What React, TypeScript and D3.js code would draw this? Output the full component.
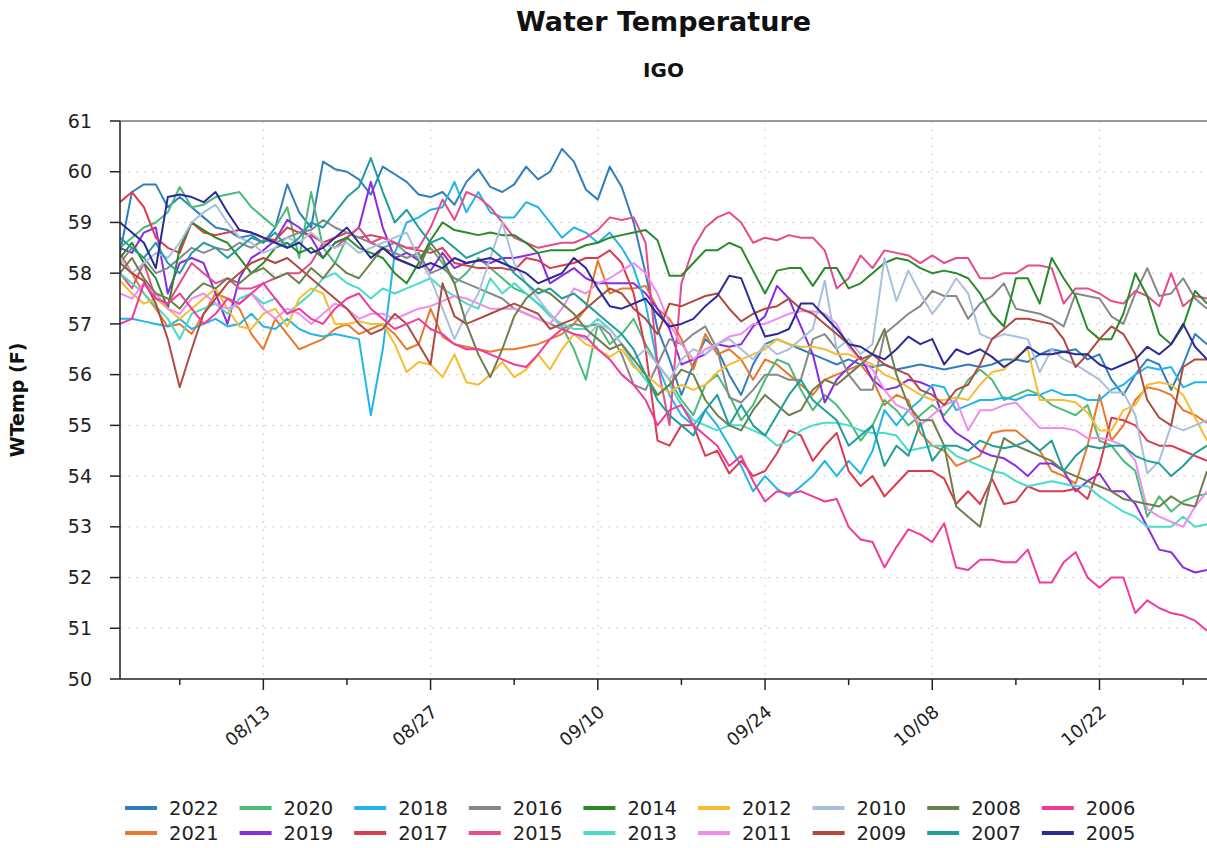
import * as d3 from 'd3';
import React from 'react';

// daily water temperature (F), 08/01 .. 10/31, one value per day
const years = ['2022', '2021', '2020', '2019', '2018', '2017', '2016', '2015', '2014', '2013', '2012', '2011', '2010', '2009', '2008', '2007', '2006', '2005'];

const colors = ['#2f7fbf', '#e8792b', '#4cba7b', '#8b2be2', '#22b5ea', '#dc3a4f', '#888888', '#e64b8d', '#2a8a2a', '#48dcc6', '#f6bd33', '#ee8cf0', '#a9bfdc', '#b04a3e', '#6e7f4e', '#1f9e9a', '#f03a9d', '#2a2a96'];

const y2022 = [58.4, 59.6, 59.75, 59.75, 59.3, 59.5, 59.3, 59.1, 58.9, 58.85, 58.7, 58.75, 58.6, 58.9, 59.75, 59.2, 58.9, 60.2, 60.05, 60.0, 59.85, 59.55, 60.1, 59.95, 59.8, 59.55, 59.5, 59.6, 59.35, 59.8, 60.05, 59.7, 59.6, 59.75, 60.1, 59.85, 60.0, 60.45, 60.2, 59.65, 59.45, 60.1, 59.7, 59.0, 58.0, 56.9, 56.3, 55.6, 56.2, 56.7, 56.5, 56.0, 55.6, 56.2, 56.6, 56.7, 56.6, 56.5, 56.4, 56.3, 56.2, 56.3, 56.2, 56.15, 56.2, 56.1, 56.15, 56.2, 56.15, 56.1, 56.15, 56.2, 56.15, 56.2, 56.3, 56.3, 56.25, 56.4, 56.5, 56.45, 56.5, 56.3, 56.4, 55.9, 55.6, 56.0, 56.3, 56.2, 55.7, 56.2, 56.8, 56.6];
const y2021 = [58.4, 58.0, 57.6, 57.3, 56.95, 57.0, 56.8, 57.2, 57.6, 57.5, 57.3, 56.8, 56.5, 57.1, 56.8, 56.5, 56.6, 56.7, 56.9, 57.0, 56.8, 56.9, 57.0, 56.8, 56.5, 56.6, 57.3, 56.75, 56.6, 56.55, 56.5, 56.45, 56.5, 56.5, 56.55, 56.6, 56.7, 56.8, 57.0, 57.3, 58.25, 57.6, 57.7, 57.7, 57.75, 57.3, 57.1, 56.7, 56.1, 56.8, 56.4, 56.5, 56.3, 55.9, 56.3, 56.2, 56.0, 55.8, 55.6, 55.9, 56.0, 56.1, 56.2, 55.9, 55.4, 55.6, 55.5, 54.85, 54.6, 54.5, 54.2, 54.3, 54.4, 54.85, 54.9, 54.9, 54.7, 54.5, 54.1, 54.0, 53.85, 54.6, 55.6, 54.7, 55.0, 55.5, 55.75, 55.7, 55.6, 55.3, 55.2, 55.05];
const y2020 = [58.5, 58.7, 58.9, 59.0, 59.2, 59.7, 59.3, 59.35, 59.5, 59.55, 59.6, 59.3, 59.1, 58.9, 59.3, 58.3, 59.6, 58.5, 58.2, 58.7, 58.9, 58.6, 58.5, 58.6, 58.4, 58.3, 58.5, 58.2, 57.8, 58.0, 58.3, 58.1, 57.9, 57.7, 57.6, 57.4, 57.2, 56.95, 56.5, 55.9, 57.0, 56.6, 56.8, 57.1, 56.6, 56.2, 55.9, 55.5, 55.2, 55.8, 56.0, 55.6, 55.1, 55.4, 55.9, 56.3, 56.2, 55.7, 55.3, 55.6, 55.4, 55.1, 54.7, 55.0, 55.5, 55.3, 55.0, 55.2, 55.4, 55.2, 55.5, 55.9, 56.1, 55.9, 55.5, 55.6, 55.7, 55.6, 55.4, 55.3, 55.2, 55.4, 54.7, 54.6, 54.3, 54.1, 53.2, 53.6, 53.3, 53.5, 53.6, 53.65];
const y2019 = [58.5, 58.4, 58.8, 58.9, 57.6, 58.2, 58.3, 58.2, 57.6, 57.0, 57.9, 58.3, 58.45, 58.65, 59.05, 58.9, 58.7, 58.3, 58.6, 58.7, 58.9, 59.8, 58.9, 58.3, 58.4, 58.25, 58.05, 58.4, 58.1, 58.2, 58.25, 58.2, 58.3, 58.3, 58.35, 58.4, 57.8, 57.95, 58.1, 57.9, 57.8, 57.8, 57.8, 57.8, 57.6, 57.3, 56.9, 56.2, 56.3, 56.4, 56.6, 56.55, 56.6, 56.95, 57.15, 57.75, 57.5, 56.95, 56.4, 55.45, 55.9, 56.15, 56.35, 55.9, 55.7, 55.75, 55.9, 55.85, 55.75, 55.1, 54.85, 54.7, 54.5, 54.4, 54.35, 54.2, 54.0, 54.25, 54.25, 54.1, 53.7, 53.9, 54.05, 53.7, 53.7, 53.45, 53.0, 52.55, 52.5, 52.2, 52.1, 52.15];
const y2018 = [57.1, 57.1, 57.05, 57.0, 56.95, 57.1, 56.9, 57.0, 57.1, 56.95, 57.0, 57.2, 56.95, 56.9, 57.1, 56.9, 56.8, 56.75, 56.8, 56.75, 56.7, 55.2, 56.5, 58.4, 59.0, 59.1, 59.25, 59.3, 59.8, 59.2, 59.6, 59.2, 59.1, 59.1, 59.4, 59.3, 59.0, 58.7, 58.9, 58.8, 58.6, 58.8, 58.5, 58.1, 57.4, 56.2, 55.6, 55.2, 55.0, 55.3, 55.0, 54.6, 54.2, 53.7, 54.0, 53.75, 53.6, 53.8, 54.0, 54.3, 54.0, 54.3, 54.05, 54.5, 55.3, 55.0, 55.3, 55.5, 55.8, 55.75, 55.3, 55.4, 55.5, 55.5, 55.55, 55.5, 55.6, 55.6, 55.7, 55.6, 55.6, 55.5, 55.5, 55.7, 55.8, 56.0, 56.15, 56.1, 56.15, 55.75, 55.85, 55.85];
const y2017 = [59.4, 59.6, 59.3, 58.7, 58.5, 58.4, 59.0, 58.8, 58.75, 58.8, 58.85, 58.8, 58.7, 58.65, 58.9, 58.8, 58.75, 58.6, 58.7, 58.8, 58.7, 58.75, 58.7, 58.6, 58.5, 58.45, 58.4, 58.5, 58.2, 58.15, 58.1, 58.1, 58.1, 58.05, 58.3, 58.25, 58.1, 58.15, 58.2, 58.3, 58.3, 58.45, 58.2, 57.6, 56.5, 54.7, 54.6, 55.0, 55.0, 54.4, 54.5, 54.05, 54.3, 54.0, 54.1, 54.45, 54.9, 54.8, 54.3, 54.6, 54.85, 54.1, 53.8, 54.0, 53.6, 53.85, 54.1, 54.1, 54.1, 53.95, 53.45, 53.7, 53.45, 53.95, 53.45, 53.5, 53.8, 53.7, 53.7, 53.7, 53.75, 53.55, 54.2, 55.15, 55.1, 55.0, 54.7, 54.6, 54.6, 54.5, 54.4, 54.3];
const y2016 = [58.2, 58.5, 58.3, 58.0, 58.1, 58.3, 58.5, 58.4, 58.5, 58.45, 58.6, 58.5, 58.65, 58.6, 58.7, 58.8, 58.85, 59.05, 58.9, 58.8, 58.7, 58.6, 58.5, 58.4, 58.3, 58.4, 58.0, 58.1, 57.9, 57.8, 57.7, 57.6, 57.5, 57.3, 57.2, 57.1, 57.0, 56.9, 57.0, 56.95, 57.0, 56.8, 56.4, 55.8, 55.7, 56.2, 56.7, 56.6, 56.8, 56.95, 56.5, 55.55, 55.45, 55.7, 56.0, 56.0, 55.9, 55.9, 56.7, 56.8, 56.5, 56.0, 55.7, 55.7, 56.8, 57.0, 57.2, 57.35, 57.65, 57.55, 57.55, 57.1, 57.4, 57.55, 57.8, 57.3, 57.25, 57.2, 57.1, 56.95, 57.6, 57.55, 57.5, 57.15, 57.0, 57.6, 58.1, 57.55, 57.6, 57.9, 57.5, 57.3];
const y2015 = [58.0, 57.7, 58.2, 57.5, 57.4, 57.8, 58.2, 58.0, 57.8, 57.9, 57.7, 57.7, 57.8, 57.9, 58.0, 58.0, 58.2, 58.6, 58.5, 58.7, 58.9, 58.6, 58.7, 58.6, 58.5, 58.5, 58.9, 59.45, 59.05, 59.6, 59.5, 59.3, 59.0, 58.7, 58.6, 58.5, 58.55, 58.6, 58.6, 58.7, 58.85, 59.1, 59.05, 59.1, 58.6, 56.2, 55.0, 57.8, 58.5, 58.9, 59.1, 59.2, 59.0, 58.6, 58.7, 58.65, 58.75, 58.7, 58.7, 58.45, 57.7, 57.9, 58.35, 58.1, 58.45, 58.4, 58.35, 58.2, 58.35, 58.2, 58.3, 58.3, 57.9, 57.9, 58.0, 58.0, 58.15, 58.15, 58.1, 57.4, 57.7, 57.7, 57.6, 57.45, 57.4, 57.65, 57.55, 57.35, 58.0, 57.35, 57.55, 57.5];
const y2014 = [58.3, 58.6, 58.2, 57.9, 57.3, 58.5, 59.0, 58.85, 58.7, 58.6, 58.3, 58.0, 58.2, 58.5, 58.6, 58.4, 58.5, 58.3, 58.6, 58.7, 58.5, 58.4, 58.3, 58.0, 57.8, 58.2, 58.65, 59.0, 58.85, 58.8, 58.75, 58.8, 58.75, 58.75, 58.6, 58.4, 58.45, 58.45, 58.45, 58.55, 58.6, 58.7, 58.75, 58.8, 58.85, 58.65, 57.95, 57.95, 58.2, 58.45, 58.45, 58.6, 58.5, 58.05, 57.6, 58.05, 58.1, 58.1, 57.75, 58.1, 58.1, 57.7, 57.8, 58.0, 58.2, 58.3, 58.25, 58.1, 58.0, 58.05, 58.0, 57.9, 57.6, 57.2, 56.95, 57.9, 57.9, 57.4, 58.3, 57.9, 57.55, 56.9, 56.7, 56.7, 57.2, 58.0, 57.55, 56.8, 56.6, 56.95, 57.65, 57.4];
const y2013 = [58.0, 57.8, 57.6, 57.35, 57.1, 56.7, 57.2, 57.3, 57.4, 57.2, 57.5, 57.6, 57.4, 57.5, 57.2, 57.4, 57.6, 57.9, 58.0, 57.8, 57.7, 57.5, 57.7, 57.6, 57.7, 57.8, 57.9, 57.7, 57.55, 57.4, 57.3, 57.9, 57.6, 57.8, 57.6, 57.4, 57.15, 57.0, 56.9, 56.9, 57.1, 56.9, 56.6, 56.2, 55.9, 55.6, 55.8, 55.4, 55.1, 55.0, 54.9, 55.0, 55.0, 54.9, 54.8, 54.6, 54.7, 54.9, 55.0, 55.05, 55.05, 55.0, 54.9, 54.85, 54.85, 54.8, 54.5, 54.55, 54.6, 54.6, 54.4, 54.3, 54.2, 54.1, 54.05, 53.9, 53.8, 53.85, 53.9, 53.85, 53.8, 53.8, 53.6, 53.45, 53.3, 53.2, 53.0, 53.0, 53.0, 53.2, 53.0, 53.05];
const y2012 = [57.85, 57.6, 57.4, 57.5, 57.3, 57.1, 57.3, 57.5, 57.7, 57.3, 56.95, 56.9, 57.2, 57.3, 56.95, 57.5, 57.7, 57.6, 57.0, 57.0, 57.05, 57.0, 57.0, 56.6, 56.05, 56.25, 56.2, 55.95, 56.4, 55.85, 55.8, 56.0, 56.25, 55.95, 56.1, 56.4, 56.1, 56.5, 56.8, 56.6, 56.5, 56.35, 56.5, 56.15, 56.0, 55.8, 55.65, 55.8, 55.7, 55.8, 56.05, 56.2, 56.3, 56.4, 56.5, 56.7, 56.6, 56.55, 56.55, 56.5, 56.4, 56.4, 56.3, 56.2, 56.0, 55.9, 55.75, 55.6, 55.5, 55.5, 55.55, 55.5, 55.8, 56.05, 56.1, 56.35, 56.5, 55.5, 55.5, 55.5, 55.45, 55.25, 54.9, 54.9, 55.3, 55.4, 55.8, 55.85, 55.8, 55.6, 55.15, 54.7];
const y2011 = [57.6, 57.5, 57.8, 57.6, 57.3, 57.2, 57.5, 57.6, 57.4, 57.3, 57.4, 57.6, 57.3, 57.1, 57.3, 57.2, 57.0, 57.2, 57.4, 57.3, 57.1, 57.2, 57.2, 57.1, 57.2, 57.3, 57.35, 57.45, 57.55, 57.5, 57.4, 57.3, 57.3, 57.3, 57.2, 57.1, 57.0, 57.3, 57.7, 57.6, 57.8, 57.9, 58.05, 58.2, 58.0, 57.6, 57.0, 56.6, 56.3, 56.5, 56.6, 56.75, 56.8, 57.0, 57.0, 57.1, 57.2, 57.25, 57.25, 57.2, 57.0, 56.55, 56.3, 56.1, 55.7, 55.4, 55.3, 55.0, 55.2, 55.4, 55.5, 54.9, 55.3, 55.3, 55.4, 55.45, 55.2, 54.95, 54.95, 54.95, 54.9, 54.75, 54.75, 54.7, 54.6, 54.3, 53.35, 53.2, 53.1, 53.0, 53.4, 53.7];
const y2010 = [58.3, 58.0, 58.2, 58.4, 58.3, 58.6, 59.0, 59.2, 59.35, 59.0, 58.7, 58.6, 58.4, 58.5, 58.7, 58.6, 58.8, 58.6, 58.5, 58.6, 58.4, 58.5, 58.6, 58.7, 58.8, 58.3, 57.9, 57.3, 56.7, 57.2, 57.6, 58.3, 59.0, 58.2, 57.8, 57.5, 57.2, 56.9, 56.8, 56.7, 57.0, 56.9, 56.6, 56.3, 56.5, 56.2, 55.9, 56.3, 56.5, 56.4, 56.6, 56.7, 56.5, 56.3, 56.6, 56.4, 56.5, 56.7, 56.9, 57.85, 56.5, 56.7, 56.4, 56.6, 58.3, 57.45, 58.05, 57.6, 57.2, 57.5, 57.9, 57.6, 56.8, 56.7, 56.8, 56.75, 56.7, 56.05, 56.5, 56.3, 56.2, 56.05, 55.9, 55.65, 55.65, 55.2, 54.05, 54.3, 55.0, 54.9, 55.0, 55.1];
const y2009 = [58.2, 58.0, 57.85, 57.4, 56.7, 55.75, 56.5, 57.2, 57.5, 57.8, 58.0, 58.2, 58.3, 58.2, 58.3, 58.1, 57.9, 57.7, 57.5, 57.3, 57.0, 56.8, 56.9, 57.2, 57.0, 56.6, 56.2, 57.8, 57.15, 57.0, 57.1, 57.2, 57.3, 57.4, 57.3, 57.2, 56.9, 57.0, 57.1, 57.3, 57.5, 57.7, 57.6, 57.3, 57.1, 56.8, 57.4, 57.35, 57.45, 57.55, 57.6, 57.3, 57.05, 57.2, 57.3, 57.35, 57.5, 57.3, 57.2, 57.0, 56.8, 56.6, 56.3, 56.4, 56.2, 56.1, 56.0, 55.7, 55.6, 55.4, 55.7, 55.8, 56.2, 56.7, 56.9, 57.1, 57.1, 57.05, 57.0, 56.7, 56.15, 56.4, 56.7, 56.95, 56.8, 56.4, 55.5, 55.15, 55.0, 56.15, 56.3, 56.3];
const y2008 = [58.0, 58.3, 57.9, 57.6, 57.5, 57.3, 57.6, 57.8, 57.7, 57.9, 57.8, 58.0, 58.1, 57.9, 58.0, 57.8, 58.1, 57.9, 58.2, 58.0, 57.9, 58.2, 58.5, 58.3, 58.2, 58.1, 58.6, 58.3, 57.8, 57.0, 56.4, 55.95, 56.5, 57.15, 57.5, 57.7, 57.6, 57.4, 57.2, 56.9, 56.7, 56.5, 56.6, 56.3, 56.0, 55.6, 55.8, 56.1, 56.0, 55.5, 55.2, 55.0, 54.9, 55.3, 55.6, 55.4, 55.2, 55.3, 55.7, 55.9, 55.8, 56.0, 56.2, 56.4, 56.9, 56.0, 55.4, 55.1, 55.1, 54.6, 53.4, 53.2, 53.0, 54.0, 54.75, 54.6, 54.5, 54.4, 54.3, 54.1, 54.0, 53.9, 53.8, 53.7, 53.55, 53.5, 53.45, 53.4, 53.6, 53.45, 53.4, 54.1];
const y2007 = [58.7, 58.5, 58.3, 58.6, 58.2, 58.0, 58.4, 58.6, 58.5, 58.3, 58.5, 58.7, 58.6, 58.8, 58.5, 58.7, 59.0, 58.9, 59.2, 59.5, 59.7, 60.27, 59.6, 59.0, 59.25, 58.9, 58.6, 58.7, 58.5, 58.3, 58.4, 58.5, 58.3, 58.0, 57.8, 57.6, 57.7, 57.5, 57.6, 57.4, 57.2, 57.0, 56.8, 56.5, 56.0, 55.5, 55.2, 55.0, 54.8, 55.3, 55.6, 55.0, 55.4, 55.0, 54.8, 55.2, 55.6, 55.9, 55.5, 55.3, 55.1, 54.6, 54.8, 55.0, 54.2, 54.6, 54.4, 55.05, 54.3, 54.6, 54.6, 54.5, 54.7, 54.6, 54.55, 54.6, 54.7, 54.5, 54.7, 54.1, 54.4, 54.6, 54.55, 54.6, 54.6, 54.4, 54.3, 54.25, 54.0, 54.2, 54.45, 54.6];
const y2006 = [57.0, 57.1, 57.8, 57.5, 57.4, 57.6, 57.3, 57.0, 57.2, 57.5, 57.4, 57.6, 57.8, 57.5, 57.2, 57.3, 57.1, 57.0, 57.3, 57.5, 57.6, 57.3, 57.1, 56.9, 57.0, 57.1, 56.9, 56.8, 56.6, 56.5, 56.5, 56.4, 56.3, 56.2, 56.15, 56.4, 56.7, 56.9, 56.8, 56.75, 56.5, 56.3, 56.0, 55.8, 55.5, 55.0, 55.3, 55.4, 55.0, 54.8, 54.6, 54.2, 54.4, 53.9, 53.5, 53.7, 53.65, 53.7, 53.6, 53.5, 53.55, 53.0, 52.75, 52.7, 52.2, 52.6, 52.95, 52.85, 52.7, 53.07, 52.2, 52.15, 52.35, 52.35, 52.3, 52.3, 52.55, 51.9, 51.9, 52.3, 52.5, 52.0, 51.8, 52.0, 52.0, 51.3, 51.55, 51.4, 51.3, 51.25, 51.15, 50.95];
const y2005 = [59.0, 58.8, 58.6, 58.1, 59.5, 59.55, 59.5, 59.4, 59.6, 59.2, 58.85, 58.8, 58.7, 58.6, 58.5, 58.6, 58.4, 58.5, 58.7, 58.9, 58.6, 58.3, 58.5, 58.3, 58.2, 58.1, 58.2, 58.1, 58.3, 58.2, 58.25, 58.3, 58.2, 58.1, 58.0, 57.8, 57.9, 58.0, 58.3, 58.1, 57.7, 57.35, 57.3, 57.4, 57.5, 57.2, 56.95, 57.0, 57.1, 57.35, 57.55, 57.95, 57.9, 57.3, 56.75, 56.8, 56.9, 57.4, 57.4, 57.15, 56.9, 56.6, 56.55, 56.4, 56.3, 56.5, 56.75, 56.6, 56.7, 56.2, 56.5, 56.4, 56.5, 56.35, 56.15, 56.3, 56.55, 56.4, 56.4, 56.45, 56.4, 56.4, 56.2, 56.1, 56.2, 56.3, 56.55, 56.4, 56.6, 57.0, 56.55, 56.3];

const seriesValues = [y2022, y2021, y2020, y2019, y2018, y2017, y2016, y2015, y2014, y2013, y2012, y2011, y2010, y2009, y2008, y2007, y2006, y2005];

const yTicks = [50, 51, 52, 53, 54, 55, 56, 57, 58, 59, 60, 61];

const W = 1207, H = 848;
const margin = { top: 121, right: 0, bottom: 169, left: 120 };
const font = 'DejaVu Sans, sans-serif';

const start = new Date(Date.UTC(2022, 7, 1));
const end = new Date(Date.UTC(2022, 9, 31));

const App = () => {
  const x = d3.scaleUtc().domain([start, end]).range([margin.left, W - margin.right]);
  const y = d3.scaleLinear().domain([50, 61]).range([H - margin.bottom, margin.top]);
  const fmt = d3.utcFormat('%m/%d');

  // weekly ticks, every other one labelled
  const weekTicks = d3.utcDay.range(new Date(Date.UTC(2022, 7, 6)), end, 7);

  const line = d3.line<number>()
    .x((_, i) => x(d3.utcDay.offset(start, i)))
    .y(d => y(d));

  const top = margin.top, bottom = H - margin.bottom, left = margin.left, right = W - margin.right;

  return (
    <svg width={W} height={H} style={{ position: 'absolute', left: 0, top: 0, background: '#fff' }} fontFamily={font}>
      <defs>
        <clipPath id="plot"><rect x={left} y={top} width={right - left} height={bottom - top} /></clipPath>
      </defs>

      <text x={(left + right) / 2} y={31} textAnchor="middle" fontSize={27} fontWeight="bold" fill="#111">Water Temperature</text>
      <text x={(left + right) / 2} y={77} textAnchor="middle" fontSize={20} fontWeight="bold" fill="#111">IGO</text>

      {/* grid */}
      {yTicks.slice(1, -1).map(t => (
        <line key={'gy' + t} x1={left} x2={right} y1={y(t)} y2={y(t)} stroke="#cfcfcf" strokeDasharray="2,6" />
      ))}
      {weekTicks.filter((_, i) => i % 2 === 1).map(t => (
        <line key={'gx' + t.getTime()} x1={x(t)} x2={x(t)} y1={top} y2={bottom} stroke="#cfcfcf" strokeDasharray="2,6" />
      ))}

      {/* series */}
      <g clipPath="url(#plot)">
        {seriesValues.map((vals, i) => (
          <path key={years[i]} d={line(vals) || ''} fill="none" stroke={colors[i]} strokeWidth={2} strokeLinejoin="round" />
        ))}
      </g>

      {/* frame + axes */}
      <line x1={left} x2={right} y1={top} y2={top} stroke="#777" strokeWidth={1.5} />
      <line x1={left} x2={left} y1={top} y2={bottom} stroke="#222" strokeWidth={1.5} />
      <line x1={left} x2={right} y1={bottom} y2={bottom} stroke="#222" strokeWidth={1.5} />

      {yTicks.map(t => (
        <g key={'yt' + t}>
          <line x1={left - 10} x2={left} y1={y(t)} y2={y(t)} stroke="#222" strokeWidth={1.5} />
          <text x={left - 28} y={y(t)} dy="0.35em" textAnchor="end" fontSize={19} fill="#222">{t}</text>
        </g>
      ))}

      {weekTicks.map((t, i) => {
        const major = i % 2 === 1;
        const tx = x(t);
        return (
          <g key={'xt' + t.getTime()}>
            <line x1={tx} x2={tx} y1={bottom} y2={bottom + (major ? 11 : 6)} stroke="#222" strokeWidth={1.5} />
            {major && (
              <text transform={`translate(${tx + 4},${bottom + 30}) rotate(-40)`} textAnchor="end" dy="0.35em" fontSize={18} fill="#222">{fmt(t)}</text>
            )}
          </g>
        );
      })}

      <text transform={`translate(24,${(top + bottom) / 2}) rotate(-90)`} textAnchor="middle" fontSize={19} fontWeight="bold" fill="#111">WTemp (F)</text>

      {/* legend */}
      {years.map((yr, i) => {
        const col = Math.floor(i / 2), row = i % 2;
        const lx = 125 + col * 114.6, ly = 808 + row * 25;
        return (
          <g key={'lg' + yr}>
            <line x1={lx} x2={lx + 32} y1={ly} y2={ly} stroke={colors[i]} strokeWidth={4} />
            <text x={lx + 44} y={ly} dy="0.36em" fontSize={19.5} fill="#222">{yr}</text>
          </g>
        );
      })}
    </svg>
  );
};

export default App;
